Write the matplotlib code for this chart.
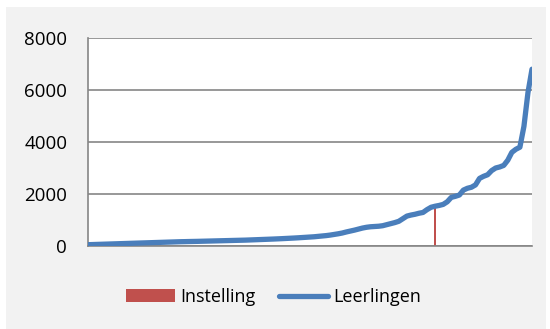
import matplotlib
matplotlib.use("Agg")
import matplotlib.pyplot as plt
from matplotlib.patches import Patch, Rectangle
from matplotlib.lines import Line2D

# Data
leerlingen = [50, 55, 60, 65, 70, 75, 80, 85, 90, 95,
              100, 105, 110, 115, 120, 125, 130, 135, 140, 145,
              150, 155, 160, 165, 168, 172, 175, 178, 182, 186,
              190, 194, 198, 202, 206, 210, 214, 218, 222, 226,
              232, 238, 244, 250, 256, 262, 268, 275, 282, 290,
              298, 306, 315, 325, 335, 345, 355, 370, 385, 400,
              420, 445, 470, 500, 540, 575, 610, 650, 690, 720,
              740, 750, 760, 780, 820, 860, 900, 950, 1050, 1150,
              1190, 1220, 1260, 1290, 1400, 1490, 1530, 1560, 1600, 1700,
              1870, 1910, 1960, 2150, 2220, 2260, 2350, 2600, 2680, 2740,
              2900, 3000, 3040, 3100, 3300, 3600, 3720, 3800, 4600, 5900,
              6800]
instelling_index = 86
instelling_value = 1500
yticks = [0, 2000, 4000, 6000, 8000]
legend_labels = ["Instelling", "Leerlingen"]

blue = "#4A7EBB"
red = "#C0504D"
grid = "#868686"
font = "Open Sans"

fig = plt.figure(figsize=(5.5, 3.29), dpi=100)
fig.patch.set_facecolor("white")
fig.add_artist(Rectangle((6 / 550, 0), 540 / 550, (329 - 7) / 329,
                         transform=fig.transFigure, facecolor="#F2F2F2",
                         edgecolor="none", zorder=0))

ax = fig.add_axes([88 / 550, (329 - 246) / 329, (532 - 88) / 550, (246 - 38) / 329])
ax.set_facecolor("white")

x = list(range(len(leerlingen)))
ax.bar([instelling_index], [instelling_value], width=0.45, color=red, zorder=2)
ax.plot(x, leerlingen, color=blue, lw=3.8, solid_capstyle="round",
        solid_joinstyle="round", zorder=3)

ax.set_xlim(0, len(leerlingen) - 1)
ax.set_ylim(0, 8000)
ax.set_yticks(yticks)
ax.set_yticklabels([str(v) for v in yticks], fontfamily=font, fontsize=13.5)
ax.tick_params(axis="y", length=0, pad=15)
ax.set_xticks([])
ax.yaxis.grid(True, color=grid, lw=1.2)
ax.set_axisbelow(True)
for s in ["top", "right"]:
    ax.spines[s].set_visible(False)
for s in ["left", "bottom"]:
    ax.spines[s].set_color(grid)
    ax.spines[s].set_linewidth(1.2)

handles = [Patch(facecolor=red, edgecolor="none"),
           Line2D([0], [0], color=blue, lw=3.8, solid_capstyle="round")]
fig.legend(handles, legend_labels, loc="center", bbox_to_anchor=(0.498, (329 - 297) / 329),
           ncol=2, frameon=False, prop={"family": font, "size": 13},
           handlelength=2.7, handletextpad=0.3, columnspacing=1.3)

fig.savefig("out.png", dpi=100)
